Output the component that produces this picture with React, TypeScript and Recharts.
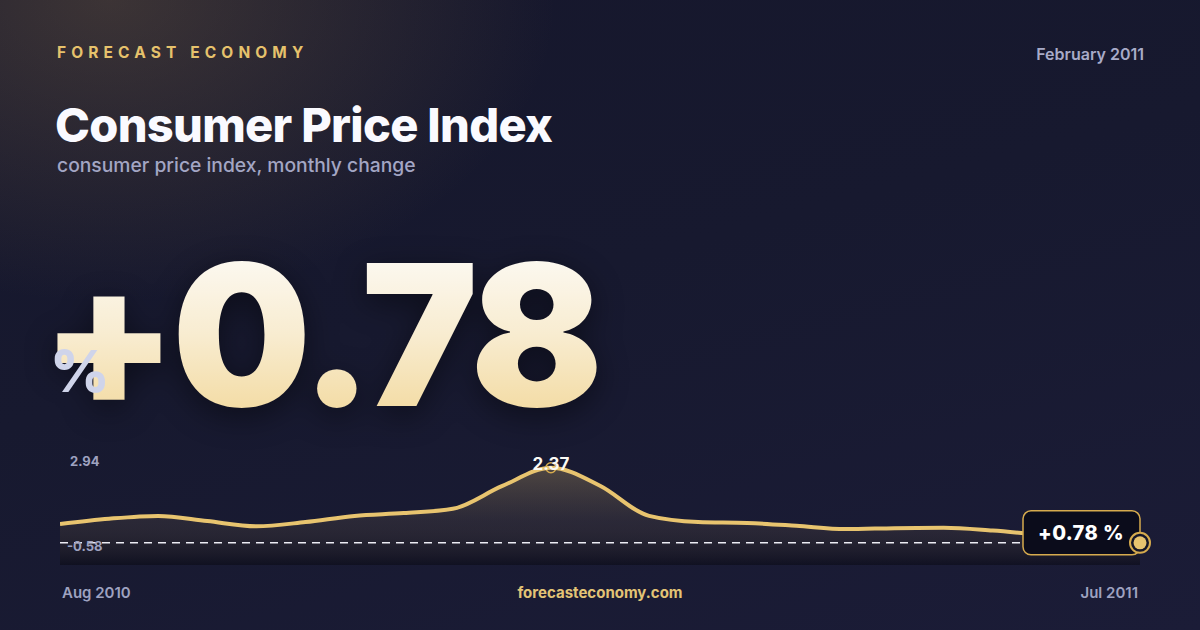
import { ComposedChart, Area, XAxis, YAxis, ReferenceLine, ReferenceDot } from 'recharts'

// half-monthly readings, Aug 2010 .. Jul 2011
const periods = [
  'Aug 1', 'Aug 16', 'Sep 1', 'Sep 16', 'Oct 1', 'Oct 16', 'Nov 1', 'Nov 16',
  'Dec 1', 'Dec 16', 'Jan 1', 'Jan 16', 'Feb 1', 'Feb 16', 'Mar 1', 'Mar 16',
  'Apr 1', 'Apr 16', 'May 1', 'May 16', 'Jun 1', 'Jun 16', 'Jul 1',
]
const cpiChange = [
  1.18, 1.29, 1.35, 1.24, 1.13, 1.22, 1.35, 1.41, 1.5, 1.98, 2.37, 1.99,
  1.35, 1.22, 1.2, 1.14, 1.07, 1.09, 1.1, 1.04, 0.95, 0.87, 0.78,
]
const scaleLabels = ['2.94', '-0.58']
const startLabel = 'Aug 2010'
const endLabel = 'Jul 2011'

const GOLD = '#e8c46f'
const RING = '#d6ab4e'
const FONT = 'Inter, "Noto Sans", sans-serif'

const data = periods.map((p, i) => ({ period: p, value: cpiChange[i] }))
const peakIdx = cpiChange.indexOf(Math.max(...cpiChange))
const last = data[data.length - 1]

function PeakDot(props: any) {
  const { cx, cy } = props
  return (
    <g>
      <circle cx={cx} cy={cy} r={5} fill="none" stroke={RING} strokeWidth={1.5} />
      <text x={cx} y={cy + 2} textAnchor="middle" fill="#fbfaf5" fontSize={17} fontWeight={700} fontFamily={FONT}>
        {cpiChange[peakIdx].toFixed(2)}
      </text>
    </g>
  )
}

function LastDot(props: any) {
  const { cx, cy } = props
  return (
    <g>
      <rect x={cx - 117} y={cy - 32} width={117} height={44} rx={8} fill="#0b0c1b" stroke={RING} strokeWidth={1.5} />
      <text x={cx - 59} y={cy - 3} textAnchor="middle" fill="#ffffff" fontSize={20} fontWeight={800} letterSpacing="0.02em" fontFamily={FONT}>
        +{last.value.toFixed(2)} %
      </text>
      <circle cx={cx} cy={cy} r={10} fill="#151628" stroke={RING} strokeWidth={2} />
      <circle cx={cx} cy={cy} r={6.5} fill={GOLD} />
    </g>
  )
}

const muted = { position: 'absolute' as const, fontFamily: FONT, lineHeight: 1, whiteSpace: 'nowrap' as const }

export default function App() {
  return (
    <div
      style={{
        position: 'absolute', left: 0, top: 0, width: 1200, height: 630, overflow: 'hidden',
        background:
          'radial-gradient(ellipse 620px 420px at 110px 0px, rgba(140,112,72,0.32), rgba(140,112,72,0) 72%), linear-gradient(165deg, #16172c 0%, #17192f 45%, #1b1c37 100%)',
        fontFamily: FONT,
      }}
    >
      <div style={{ ...muted, left: 57, top: 45, fontSize: 15.5, fontWeight: 700, letterSpacing: '0.33em', color: '#e6c26c' }}>
        FORECAST ECONOMY
      </div>
      <div style={{ ...muted, right: 56, top: 46, fontSize: 16, fontWeight: 600, color: '#a8abc8' }}>February 2011</div>
      <div style={{ ...muted, left: 55, top: 101, fontSize: 47, fontWeight: 800, letterSpacing: '-0.015em', color: '#fafaff' }}>
        Consumer Price Index
      </div>
      <div style={{ ...muted, left: 57, top: 156, fontSize: 19.3, fontWeight: 500, color: '#a3a6c4' }}>
        consumer price index, monthly change
      </div>

      <div
        style={{
          ...muted, left: 41, top: 237, fontSize: 196, fontWeight: 900, letterSpacing: '-0.025em',
          background: 'linear-gradient(180deg, #fdfcf9 0%, #f8ecd0 50%, #f2d798 100%)',
          WebkitBackgroundClip: 'text', backgroundClip: 'text', color: 'transparent',
          filter: 'drop-shadow(0 8px 16px rgba(0,0,0,0.45))',
        }}
      >
        +{last.value.toFixed(2)}
      </div>
      <div style={{ ...muted, left: 50, top: 342, fontSize: 58, fontWeight: 800, color: '#cfd4ea' }}>%</div>

      <div style={{ position: 'absolute', left: 60, top: 435 }}>
        <ComposedChart width={1100} height={130} data={data} margin={{ top: 20, right: 20, bottom: 0, left: 0 }} style={{ overflow: 'visible' }}>
          <defs>
            <linearGradient id="cpiFill" x1="0" y1="0" x2="0" y2="1">
              <stop offset="0%" stopColor="#e8c46f" stopOpacity={0.26} />
              <stop offset="55%" stopColor="#6a5a48" stopOpacity={0.22} />
              <stop offset="100%" stopColor="#05050c" stopOpacity={0.45} />
            </linearGradient>
          </defs>
          <XAxis dataKey="period" hide />
          <YAxis hide domain={[0.31, 2.64]} allowDataOverflow />
          <Area
            type="monotone"
            dataKey="value"
            stroke={GOLD}
            strokeWidth={4}
            fill="url(#cpiFill)"
            fillOpacity={1}
            dot={false}
            activeDot={false}
            isAnimationActive={false}
          />
          <ReferenceLine y={last.value} stroke="#ececf4" strokeDasharray="8 6" strokeWidth={1.5} />
          <ReferenceDot x={periods[peakIdx]} y={cpiChange[peakIdx]} shape={PeakDot} />
          <ReferenceDot x={last.period} y={last.value} shape={LastDot} />
        </ComposedChart>
      </div>

      <div style={{ ...muted, left: 70, top: 455, fontSize: 13, fontWeight: 700, color: '#9ea2c0' }}>{scaleLabels[0]}</div>
      <div style={{ ...muted, left: 67, top: 540, fontSize: 13, fontWeight: 700, color: '#9ea2c0' }}>{scaleLabels[1]}</div>

      <div style={{ ...muted, left: 62, top: 585, fontSize: 15, fontWeight: 600, color: '#9ea2c0' }}>{startLabel}</div>
      <div style={{ ...muted, left: 0, width: 1200, textAlign: 'center', top: 585, fontSize: 15, fontWeight: 700, color: '#e3c476' }}>
        forecasteconomy.com
      </div>
      <div style={{ ...muted, right: 62, top: 585, fontSize: 15, fontWeight: 600, color: '#9ea2c0' }}>{endLabel}</div>
    </div>
  )
}
